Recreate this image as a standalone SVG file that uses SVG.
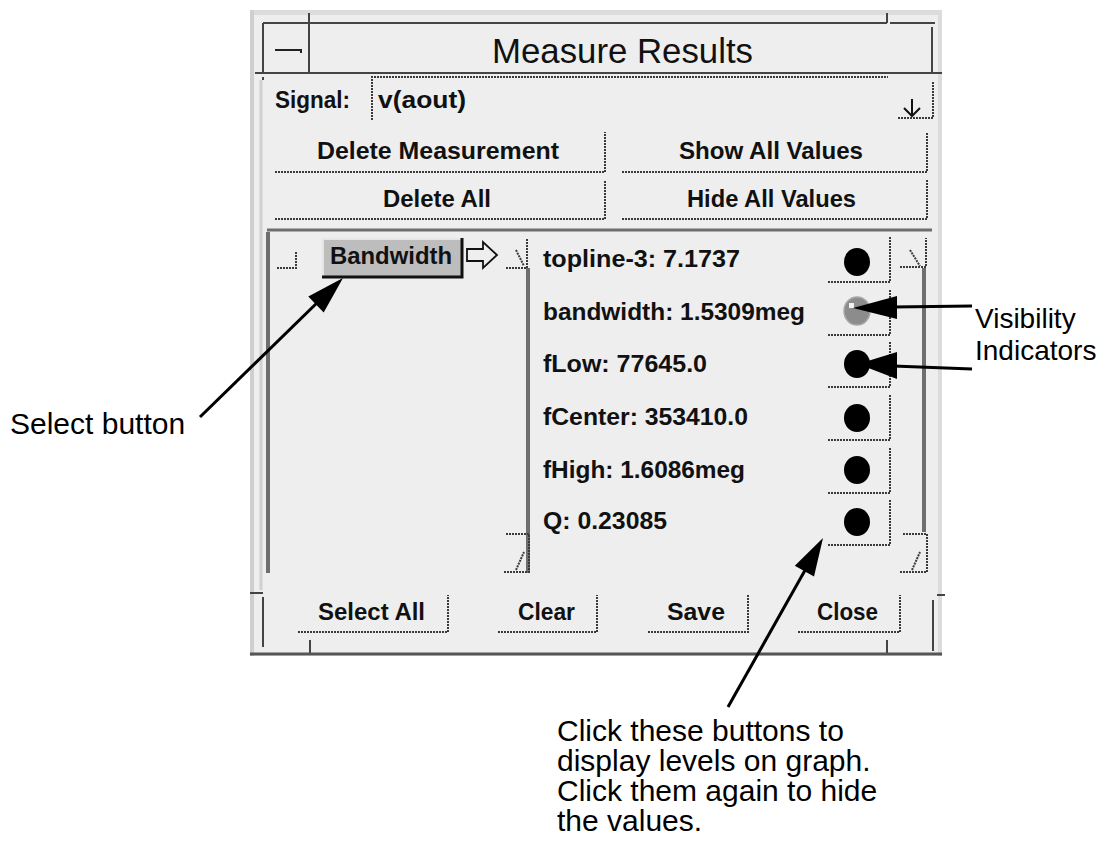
<svg xmlns="http://www.w3.org/2000/svg" width="1116" height="846" viewBox="0 0 1116 846">
<style>
.ui{font-family:"Liberation Sans",Arial,sans-serif;font-weight:bold;font-size:24px;fill:#111}
.ann{font-family:"Liberation Sans",Arial,sans-serif;font-size:30px;fill:#000}
.title{font-family:"Liberation Sans",Arial,sans-serif;font-size:35px;fill:#111}
.frame{stroke:#444;stroke-width:2;fill:none}
.dot{stroke:#3a3a3a;stroke-width:2;stroke-dasharray:2 1;fill:none}
.tex{stroke:#6e6e6e;stroke-width:4;fill:none}
.conn{stroke:#000;stroke-width:3;fill:none}
.head{fill:#000}
</style>
<rect x="0" y="0" width="1116" height="846" fill="#fff"/>

<g id="window">
  <rect x="250" y="10" width="692" height="646" fill="#eeeeee"/>
  <rect x="250" y="10" width="692" height="5" fill="#dcdcdc"/>
  <rect x="250" y="10" width="4" height="646" fill="#cfcfcf"/>
  <rect x="938" y="10" width="4" height="646" fill="#dcdcdc"/>
  <path class="frame" d="M263 23 H887 M890 23 H935 M263 23 V73 M309 13 V73 M887 13 V23 M932 27 V73 M255 73 H932 M932 73 H942 M263 77 V80"/>
  <path class="frame" d="M250 593 H263 M263 597 V647 M937 595 H945 M933 600 V651 M310 640 V653 M887 640 V653"/>
  <path d="M250 654 H942" stroke="#555" stroke-width="3"/>
  <path d="M261 80 V590" stroke="#d0d0d0" stroke-width="3"/>
</g>

<g id="title">
  <path d="M275 50 H301 V53" stroke="#222" stroke-width="2" fill="none"/>
  <text class="title" x="492" y="63" textLength="261" lengthAdjust="spacingAndGlyphs">Measure Results</text>
</g>

<g id="signal">
  <text class="ui" x="275" y="108" textLength="75" lengthAdjust="spacingAndGlyphs">Signal:</text>
  <path class="dot" d="M372 120 V77 H888"/>
  <text class="ui" x="378" y="108" textLength="88" lengthAdjust="spacingAndGlyphs">v(aout)</text>
  <path class="dot" d="M898 118 H933 V82"/>
  <path d="M912 99 V116 M904 108 L912 116 L920 108" stroke="#111" stroke-width="2" fill="none"/>
</g>

<g id="btn-delete-measurement">
  <path class="dot" d="M275 172 H605 V132"/>
  <text class="ui" x="317" y="159" textLength="242" lengthAdjust="spacingAndGlyphs">Delete Measurement</text>
</g>
<g id="btn-show-all">
  <path class="dot" d="M622 172 H927 V132"/>
  <text class="ui" x="679" y="159" textLength="184" lengthAdjust="spacingAndGlyphs">Show All Values</text>
</g>
<g id="btn-delete-all">
  <path class="dot" d="M275 219 H605 V180"/>
  <text class="ui" x="383" y="207" textLength="108" lengthAdjust="spacingAndGlyphs">Delete All</text>
</g>
<g id="btn-hide-all">
  <path class="dot" d="M622 219 H927 V180"/>
  <text class="ui" x="687" y="207" textLength="169" lengthAdjust="spacingAndGlyphs">Hide All Values</text>
</g>

<g id="panes">
  <path class="tex" d="M267 230 H932" style="stroke-width:3"/>
  <path class="tex" d="M268 232 V573"/>
  <path class="tex" d="M528 268 V573"/>
  <path class="tex" d="M924 268 V532"/>
  <path class="dot" d="M277 268 H296 V252"/>
  <path class="dot" d="M506 268 H527 V238 M516 250 L524 266"/>
  <path class="dot" d="M504 572 H529 V534 H506 M516 570 L524 552"/>
  <path class="dot" d="M900 267 H926 V238 M910 250 L920 266"/>
  <path class="dot" d="M900 572 H927 V534 H902 M912 570 L920 552"/>
</g>

<g id="bandwidth-button">
  <rect x="322" y="238" width="140" height="40" fill="#bdbdbd"/>
  <path d="M323 277 V239 H461" stroke="#e6e6e6" stroke-width="2" fill="none"/>
  <path d="M322 277 H462 V238" stroke="#111" stroke-width="3" fill="none"/>
  <text class="ui" x="330" y="264" textLength="122" lengthAdjust="spacingAndGlyphs">Bandwidth</text>
  <path d="M467 249 H483 V242 L497 255 L483 268 V261 H467 Z" stroke="#111" stroke-width="1.8" fill="none"/>
</g>

<g id="results">
  <text class="ui" x="543" y="267" textLength="197" lengthAdjust="spacingAndGlyphs">topline-3: 7.1737</text>
  <text class="ui" x="543" y="320" textLength="262" lengthAdjust="spacingAndGlyphs">bandwidth: 1.5309meg</text>
  <text class="ui" x="543" y="372" textLength="164" lengthAdjust="spacingAndGlyphs">fLow: 77645.0</text>
  <text class="ui" x="543" y="425" textLength="205" lengthAdjust="spacingAndGlyphs">fCenter: 353410.0</text>
  <text class="ui" x="543" y="478" textLength="202" lengthAdjust="spacingAndGlyphs">fHigh: 1.6086meg</text>
  <text class="ui" x="543" y="529" textLength="124" lengthAdjust="spacingAndGlyphs">Q: 0.23085</text>
</g>

<g id="visibility-buttons">
  <path class="dot" d="M828 282 H890 V236"/>
  <path class="dot" d="M828 335 H890 V289"/>
  <path class="dot" d="M828 387 H890 V341"/>
  <path class="dot" d="M828 440 H890 V394"/>
  <path class="dot" d="M828 493 H890 V447"/>
  <path class="dot" d="M828 545 H890 V499"/>
  <ellipse cx="857" cy="262" rx="13" ry="14" fill="#000"/>
  <ellipse cx="857" cy="311" rx="13" ry="14" fill="#8c8c8c" stroke="#a8a8a8" stroke-width="1.5"/>
  <rect x="849" y="303" width="5" height="5" fill="#f4f4f4"/>
  <ellipse cx="857" cy="364" rx="13" ry="14" fill="#000"/>
  <ellipse cx="857" cy="418" rx="13" ry="14" fill="#000"/>
  <ellipse cx="857" cy="470" rx="13" ry="14" fill="#000"/>
  <ellipse cx="857" cy="522" rx="13" ry="14" fill="#000"/>
</g>

<g id="btn-select-all">
  <path class="dot" d="M298 632 H448 V595"/>
  <text class="ui" x="318" y="620" textLength="107" lengthAdjust="spacingAndGlyphs">Select All</text>
</g>
<g id="btn-clear">
  <path class="dot" d="M498 632 H597 V595"/>
  <text class="ui" x="518" y="620" textLength="57" lengthAdjust="spacingAndGlyphs">Clear</text>
</g>
<g id="btn-save">
  <path class="dot" d="M648 632 H748 V595"/>
  <text class="ui" x="667" y="620" textLength="58" lengthAdjust="spacingAndGlyphs">Save</text>
</g>
<g id="btn-close">
  <path class="dot" d="M798 632 H900 V595"/>
  <text class="ui" x="817" y="620" textLength="61" lengthAdjust="spacingAndGlyphs">Close</text>
</g>

<g id="label-select">
  <text class="ann" x="10" y="434">Select button</text>
</g>
<g id="label-visibility">
  <text class="ann" x="975" y="328" style="font-size:28px">Visibility</text>
  <text class="ann" x="975" y="360" style="font-size:28px">Indicators</text>
</g>
<g id="label-click">
  <text class="ann" x="557" y="741">Click these buttons to</text>
  <text class="ann" x="557" y="771">display levels on graph.</text>
  <text class="ann" x="557" y="801">Click them again to hide</text>
  <text class="ann" x="557" y="831">the values.</text>
</g>

<g id="connectors">
  <path class="conn" d="M200 417 L322 298"/>
  <polygon class="head" points="343,278 323.7,312.4 308.3,296.6"/>
  <path class="conn" d="M972 306 L893 307"/>
  <polygon class="head" points="853,308 897,296 897,319"/>
  <path class="conn" d="M972 369 L893 366"/>
  <polygon class="head" points="858,364 897,352 897,379"/>
  <path class="conn" d="M728 707 L808 565"/>
  <polygon class="head" points="823,538 814,576.5 794.8,565.7"/>
</g>
</svg>
